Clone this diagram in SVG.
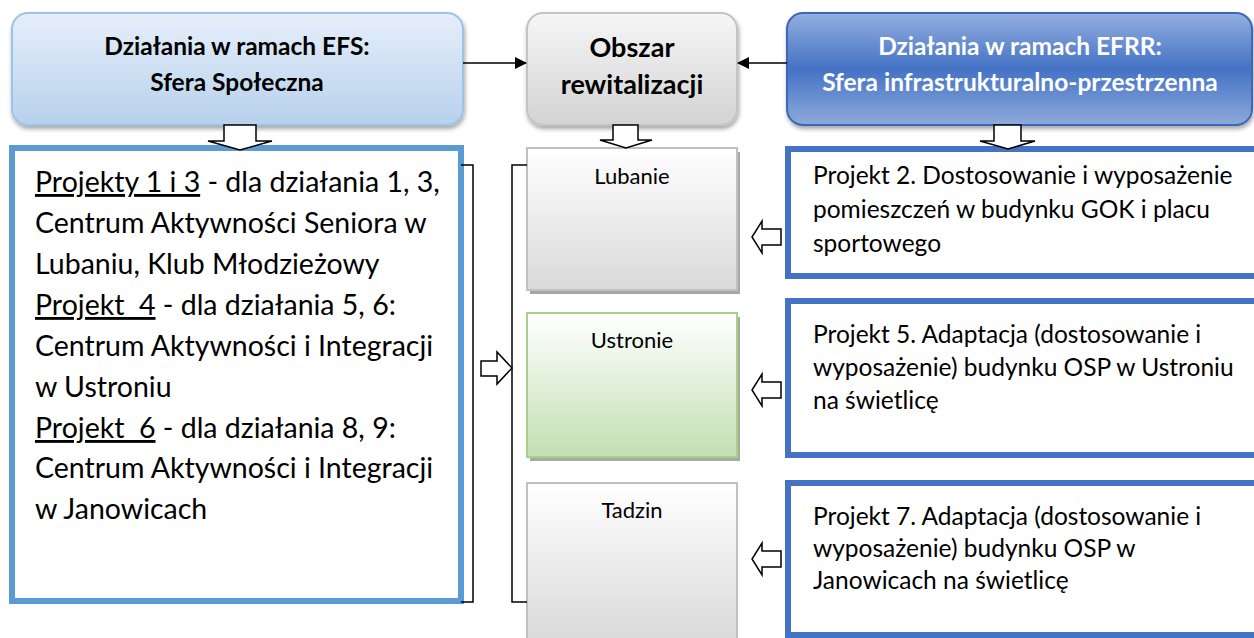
<svg xmlns="http://www.w3.org/2000/svg" width="1254" height="638" viewBox="0 0 1254 638">
<defs>
<linearGradient id="gLB" x1="0" y1="0" x2="0" y2="1"><stop offset="0" stop-color="#e6effa"/><stop offset="1" stop-color="#b7d1ec"/></linearGradient>
<linearGradient id="gGr" x1="0" y1="0" x2="0" y2="1"><stop offset="0" stop-color="#f6f6f6"/><stop offset="1" stop-color="#d3d3d3"/></linearGradient>
<linearGradient id="gDB" x1="0" y1="0" x2="0" y2="1"><stop offset="0" stop-color="#93afdf"/><stop offset="0.5" stop-color="#4472c4"/><stop offset="1" stop-color="#8eaadc"/></linearGradient>
<linearGradient id="gBox" x1="0" y1="0" x2="0" y2="1"><stop offset="0" stop-color="#ffffff"/><stop offset="1" stop-color="#d9d9d9"/></linearGradient>
<linearGradient id="gGreen" x1="0" y1="0" x2="0" y2="1"><stop offset="0" stop-color="#ffffff"/><stop offset="1" stop-color="#c3dfb2"/></linearGradient>
<filter id="sh" x="-10%" y="-10%" width="120%" height="130%"><feDropShadow dx="1" dy="3" stdDeviation="2" flood-color="#000" flood-opacity="0.35"/></filter>
<marker id="ah" markerWidth="12" markerHeight="12" refX="11" refY="6" orient="auto" markerUnits="userSpaceOnUse" viewBox="0 0 12 12"><path d="M0,0 L12,6 L0,12 z" fill="#000"/></marker>
<style>
.hb{font-family:Lato,"Liberation Sans",sans-serif;font-weight:bold;font-size:24.5px;text-anchor:middle;fill:#000}
.hw{font-family:Lato,"Liberation Sans",sans-serif;font-weight:bold;font-size:24.5px;text-anchor:middle;fill:#fff}
.tl{font-family:Lato,"Liberation Sans",sans-serif;font-size:28.5px;fill:#000}
.tr{font-family:Lato,"Liberation Sans",sans-serif;font-size:24.5px;fill:#000}
.tm{font-family:Lato,"Liberation Sans",sans-serif;font-size:22px;fill:#000;text-anchor:middle}
.u{text-decoration:underline}
.blk{fill:#fff;stroke:#000;stroke-width:1.5}
.con{fill:none;stroke:#000;stroke-width:1.5}
</style>
</defs>
<rect width="1254" height="638" fill="#fff"/>

<g id="efs">
<rect x="12" y="13" width="451" height="112" rx="16" fill="url(#gLB)" stroke="#9dc3e6" stroke-width="2" filter="url(#sh)"/>
<text class="hb" x="237" y="55">Działania w ramach EFS:</text>
<text class="hb" x="237" y="91">Sfera Społeczna</text>
</g>

<g id="obszar">
<rect x="527" y="13" width="210" height="112" rx="16" fill="url(#gGr)" stroke="#c4c4c4" stroke-width="2" filter="url(#sh)"/>
<text class="hb" x="632" y="57" style="font-size:27px">Obszar</text>
<text class="hb" x="632" y="94" style="font-size:27px">rewitalizacji</text>
</g>

<g id="efrr">
<rect x="787" y="13" width="465" height="112" rx="16" fill="url(#gDB)" stroke="#3d68b5" stroke-width="2" filter="url(#sh)"/>
<text class="hw" x="1020" y="55">Działania w ramach EFRR:</text>
<text class="hw" x="1020" y="91">Sfera infrastrukturalno-przestrzenna</text>
</g>

<g id="projekty-efs">
<rect x="12" y="148" width="449" height="453" fill="#fff" stroke="#5b9bd5" stroke-width="6"/>
<text class="tl" x="35" y="192"><tspan class="u">Projekty 1 i 3</tspan> - dla działania 1, 3,</text>
<text class="tl" x="35" y="233">Centrum Aktywności Seniora w</text>
<text class="tl" x="35" y="274">Lubaniu, Klub Młodzieżowy</text>
<text class="tl" x="35" y="315"><tspan class="u">Projekt&#160; 4</tspan> - dla działania 5, 6:</text>
<text class="tl" x="35" y="356">Centrum Aktywności i Integracji</text>
<text class="tl" x="35" y="397">w Ustroniu</text>
<text class="tl" x="35" y="438"><tspan class="u">Projekt&#160; 6</tspan> - dla działania 8, 9:</text>
<text class="tl" x="35" y="478">Centrum Aktywności i Integracji</text>
<text class="tl" x="35" y="519">w Janowicach</text>
</g>

<g id="lubanie">
<rect x="530" y="152" width="210" height="142" fill="#a6a6a6"/>
<rect x="527" y="148" width="210" height="142" fill="url(#gBox)" stroke="#c0c0c0" stroke-width="2"/>
<text class="tm" x="632" y="184">Lubanie</text>
</g>

<g id="ustronie">
<rect x="530" y="317" width="210" height="144" fill="#a5ad9f"/>
<rect x="527" y="313" width="210" height="144" fill="url(#gGreen)" stroke="#a9d18e" stroke-width="2"/>
<text class="tm" x="632" y="348">Ustronie</text>
</g>

<g id="tadzin">
<rect x="527" y="483" width="210" height="160" fill="url(#gBox)" stroke="#c0c0c0" stroke-width="2"/>
<text class="tm" x="632" y="518">Tadzin</text>
</g>

<g id="projekt2">
<rect x="788" y="149" width="500" height="127" fill="#fff" stroke="#4472c4" stroke-width="6"/>
<text class="tr" x="813" y="184">Projekt 2. Dostosowanie i wyposażenie</text>
<text class="tr" x="813" y="218">pomieszczeń w budynku GOK i placu</text>
<text class="tr" x="813" y="252">sportowego</text>
</g>

<g id="projekt5">
<rect x="788" y="301" width="500" height="154" fill="#fff" stroke="#4472c4" stroke-width="6"/>
<text class="tr" x="813" y="343">Projekt 5. Adaptacja (dostosowanie i</text>
<text class="tr" x="813" y="376">wyposażenie) budynku OSP w Ustroniu</text>
<text class="tr" x="813" y="409">na świetlicę</text>
</g>

<g id="projekt7">
<rect x="788" y="483" width="500" height="152" fill="#fff" stroke="#4472c4" stroke-width="6"/>
<text class="tr" x="813" y="525">Projekt 7. Adaptacja (dostosowanie i</text>
<text class="tr" x="813" y="557">wyposażenie) budynku OSP w</text>
<text class="tr" x="813" y="589">Janowicach na świetlicę</text>
</g>

<g id="connectors">
<line class="con" x1="463" y1="63" x2="526" y2="63" marker-end="url(#ah)"/>
<line class="con" x1="787" y1="63" x2="738" y2="63" marker-end="url(#ah)"/>
<polyline class="con" points="461,165 473,165 473,602 461,602"/>
<polyline class="con" points="527,165 512,165 512,602 527,602"/>
<path class="blk" d="M224,125 H256 V141 H272 L240,150 L208,141 H224 Z"/>
<path class="blk" d="M613,125 H638 V140 H652 L626,148 L600,140 H613 Z"/>
<path class="blk" d="M994,125 H1021 V141 H1035 L1008,149 L980,141 H994 Z"/>
<path class="blk" d="M481,361 H497 V352 L512,368 L497,384 V376 H481 Z"/>
<path class="blk" d="M781,229 H762 V221 L752,237 L762,253 V245 H781 Z"/>
<path class="blk" d="M781,382 H762 V374 L752,390 L762,406 V398 H781 Z"/>
<path class="blk" d="M781,551 H762 V543 L752,559 L762,575 V567 H781 Z"/>
</g>
</svg>
